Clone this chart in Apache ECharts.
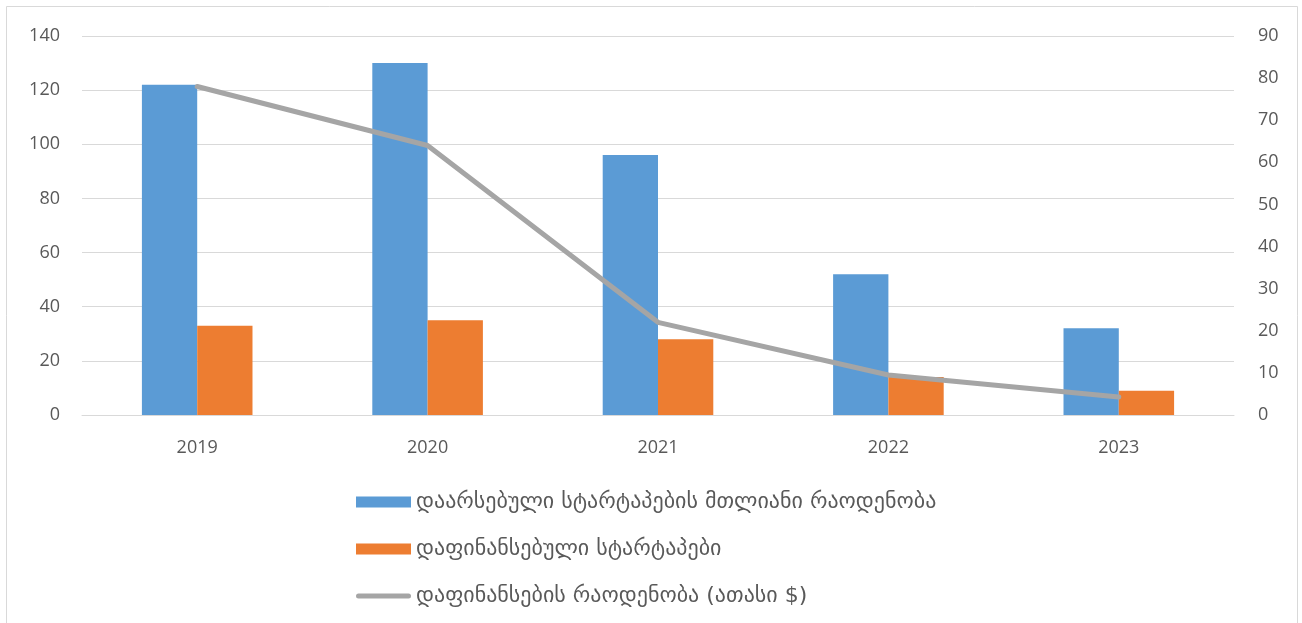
<!DOCTYPE html>
<html>
<head>
<meta charset="utf-8">
<script src="https://cdn.jsdelivr.net/npm/echarts@6/dist/echarts.min.js"></script>
<style>
  html, body { margin: 0; padding: 0; background: #ffffff; }
  #chart { width: 1302px; height: 623px; }
</style>
</head>
<body>
<div id="chart"></div>
<script>
// Years on the category axis
const years = ['2019', '2020', '2021', '2022', '2023'];
// Total number of founded startups
const foundedStartups = [122, 130, 96, 52, 32];
// Number of funded startups
const fundedStartups = [33, 35, 28, 14, 9];
// Amount of funding (thousand $), right axis
const fundingAmount = [78, 64, 22, 9.5, 4.3];

const seriesNames = [
  'დაარსებული სტარტაპების მთლიანი რაოდენობა',
  'დაფინანსებული სტარტაპები',
  'დაფინანსების რაოდენობა (ათასი $)'
];

const axisFont = { color: '#595959', fontSize: 18, fontFamily: 'Open Sans, Liberation Sans, sans-serif' };
const gridColor = '#d9d9d9';

// thick rounded stroke used as the legend key of the line series
const lineKey = 'path://M2.5,0 L52.5,0 A2.5,2.5 0 0 1 52.5,5 L2.5,5 A2.5,2.5 0 0 1 2.5,0 Z';

const chart = echarts.init(document.getElementById('chart'), null, { renderer: 'canvas' });

chart.setOption({
  backgroundColor: '#ffffff',
  animation: false,
  graphic: [{
    type: 'rect',
    shape: { x: 6.5, y: 6.5, width: 1291, height: 640 },
    style: { fill: 'none', stroke: '#d9d9d9', lineWidth: 1 },
    silent: true,
    z: -1
  }],
  grid: { left: 82, right: 68, top: 36, bottom: 208 },
  legend: {
    orient: 'vertical',
    left: 356,
    top: 491,
    padding: 0,
    itemWidth: 55,
    itemHeight: 11,
    itemGap: 25,
    textStyle: { color: '#595959', fontSize: 22, lineHeight: 20, fontFamily: 'DejaVu Sans, sans-serif' },
    data: [
      { name: seriesNames[0], icon: 'rect' },
      { name: seriesNames[1], icon: 'rect' },
      { name: seriesNames[2], icon: lineKey }
    ]
  },
  xAxis: {
    type: 'category',
    data: years,
    axisLine: { lineStyle: { color: gridColor, width: 1 } },
    axisTick: { show: false },
    axisLabel: Object.assign({ margin: 24 }, axisFont)
  },
  yAxis: [
    {
      type: 'value',
      min: 0, max: 140, interval: 20,
      axisLine: { show: false },
      axisTick: { show: false },
      splitLine: { lineStyle: { color: gridColor, width: 1 } },
      axisLabel: Object.assign({ margin: 22 }, axisFont)
    },
    {
      type: 'value',
      min: 0, max: 90, interval: 10,
      axisLine: { show: false },
      axisTick: { show: false },
      splitLine: { show: false },
      axisLabel: Object.assign({ margin: 24 }, axisFont)
    }
  ],
  series: [
    {
      name: seriesNames[0],
      type: 'bar',
      data: foundedStartups,
      barGap: '0%',
      barCategoryGap: '52%',
      itemStyle: { color: '#5b9bd5' }
    },
    {
      name: seriesNames[1],
      type: 'bar',
      data: fundedStartups,
      itemStyle: { color: '#ed7d31' }
    },
    {
      name: seriesNames[2],
      type: 'line',
      yAxisIndex: 1,
      data: fundingAmount,
      symbol: 'none',
      lineStyle: { color: '#a5a5a5', width: 5, cap: 'round', join: 'round' },
      itemStyle: { color: '#a5a5a5' },
      z: 5
    }
  ]
});
</script>
</body>
</html>
